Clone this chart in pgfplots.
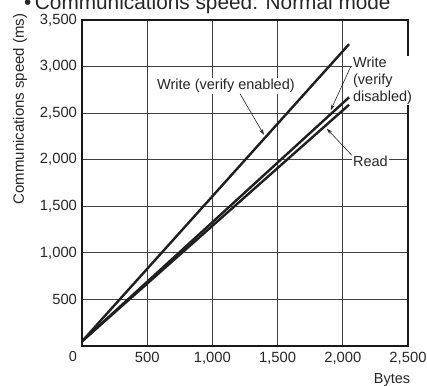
\documentclass[border=0pt]{standalone}
\usepackage{fontspec}
\setmainfont{Liberation Sans}
\usepackage{pgfplots}
\pgfplotsset{compat=1.18}
\usetikzlibrary{arrows.meta}
\begin{document}
\fontsize{14.5}{17}\selectfont
\begin{tikzpicture}[x=1pt,y=1pt]
\path[use as bounding box] (-82,-39) rectangle (345,346);
\clip (-82,-39) rectangle (345,346);
\begin{axis}[
  at={(0,0)}, anchor=south west,
  scale only axis, width=326pt, height=326pt,
  xmin=0, xmax=2500, ymin=0, ymax=3500,
  xtick={500,1000,1500,2000,2500},
  ytick={500,1000,1500,2000,2500,3000,3500},
  grid=major,
  major grid style={draw=black!75, line width=0.8pt},
  axis line style={line width=1.3pt, black!90},
  major tick length=0pt,
  /pgf/number format/assume math mode=true,
  /pgf/number format/1000 sep={,},
  ticklabel style={font=\fontsize{14.8}{17}\selectfont, text=black!85},
  xticklabel style={yshift=-1pt},
  clip=false,
]
\addplot[line width=2.4pt, black!88] coordinates {(0,50) (2048,3240)};
\addplot[line width=2.4pt, black!88] coordinates {(0,50) (2048,2670)};
\addplot[line width=2.4pt, black!88] coordinates {(0,50) (2048,2590)};

\node[fill=white, inner sep=1pt, text=black!85] at (axis cs:1104,2793) {Write (verify enabled)};
\draw[line width=0.6pt, black!85, -{Stealth[length=6pt,width=3.5pt]}] (axis cs:1212,2707) -- (axis cs:1396,2266);

\node[fill=white, inner sep=1pt, anchor=west, align=left, text=black!85,
      font=\fontsize{14.5}{17.2}\selectfont] at (axis cs:2070,2850) {Write\\(verify\\disabled)};
\draw[line width=0.6pt, black!85, -{Stealth[length=6pt,width=3.5pt]}] (axis cs:2061,3000) -- (axis cs:1907,2530);

\node[fill=white, inner sep=1pt, anchor=west, text=black!85] at (axis cs:2070,1987) {Read};
\draw[line width=0.6pt, black!85, -{Stealth[length=6pt,width=3.5pt]}] (axis cs:2068,2049) -- (axis cs:1876,2335);
\end{axis}
\node[text=black!85] at (-9,-11) {0};
\node[anchor=base, text=black!85] at (310,-37.5) {Bytes};
\node[rotate=90, text=black!85, font=\fontsize{15}{17}\selectfont] at (-62,237) {Communications speed (ms)};
\node[anchor=base west, inner sep=0pt, text=black!85, font=\fontsize{20.8}{24}\selectfont] at (-58,336.5) {\textbullet\,Communications speed: Normal mode};
\end{tikzpicture}
\end{document}
